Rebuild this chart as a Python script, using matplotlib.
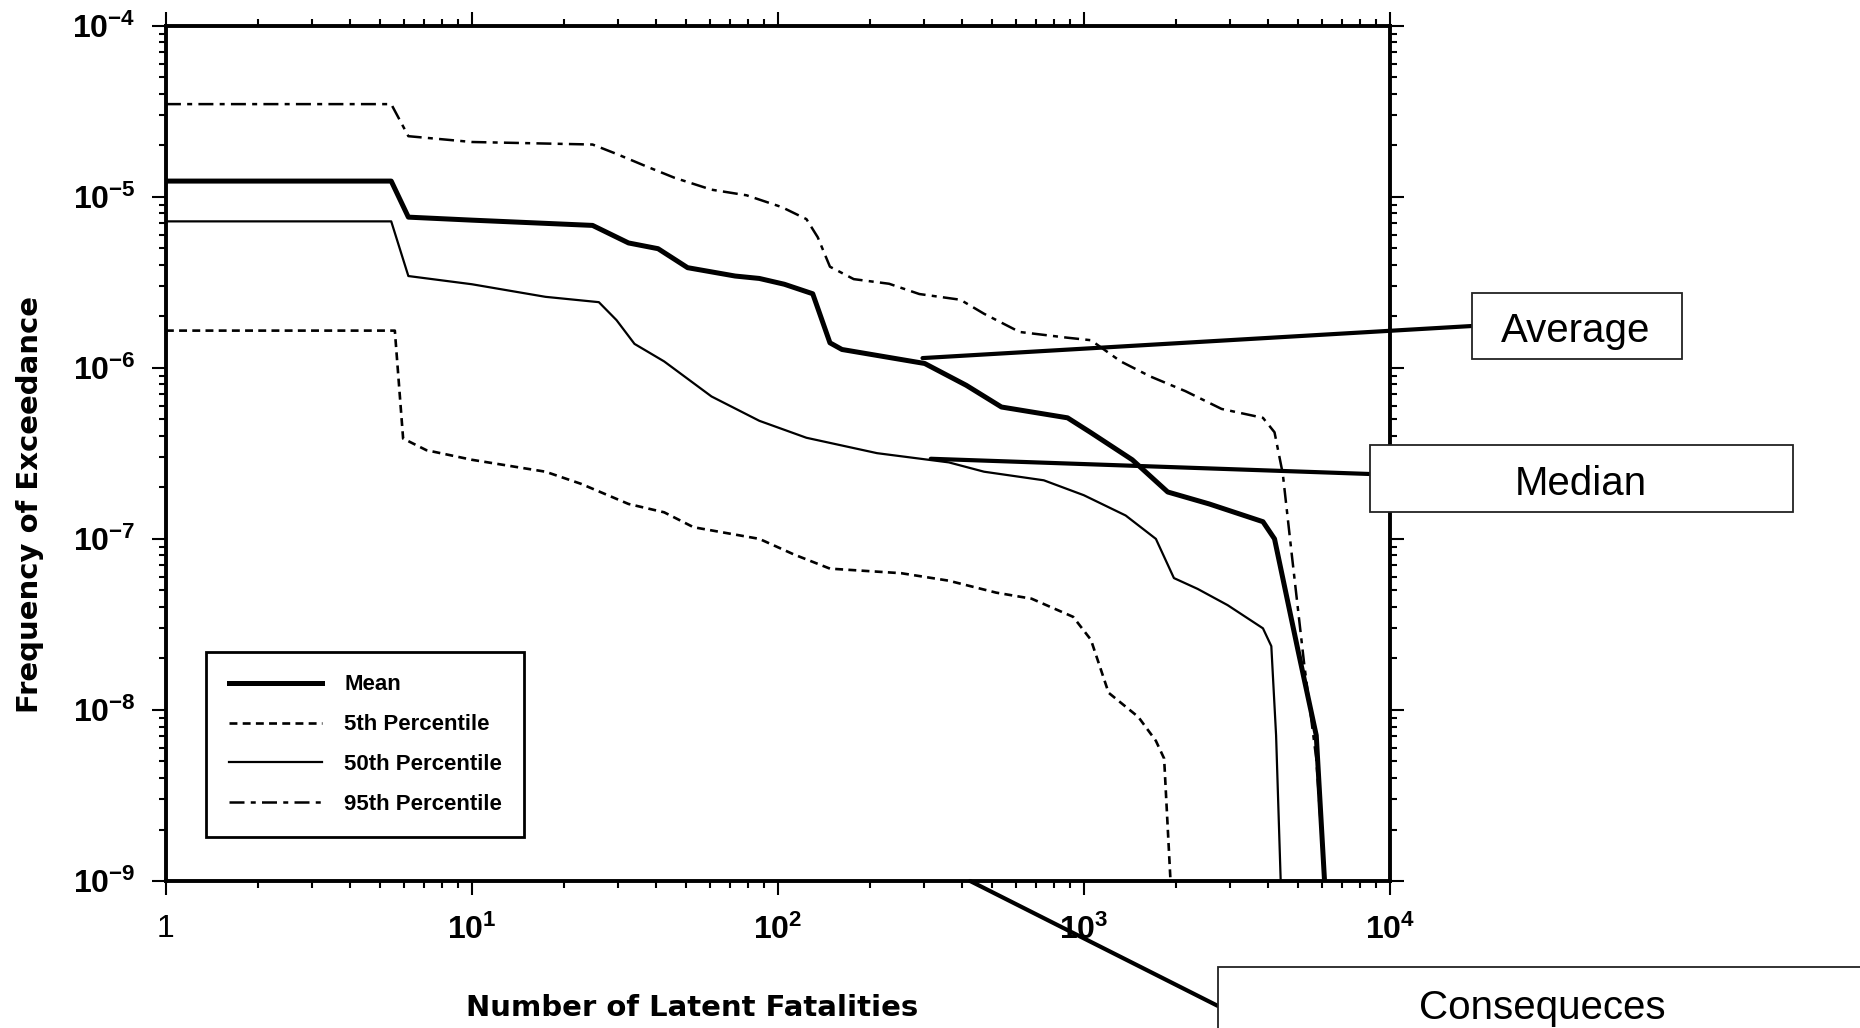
import numpy as np
import matplotlib
matplotlib.use('Agg')
import matplotlib.pyplot as plt
from matplotlib.patches import Rectangle
from matplotlib.ticker import LogLocator, NullFormatter

plt.rcParams['font.family'] = ['Liberation Sans', 'DejaVu Sans']
plt.rcParams['mathtext.fontset'] = 'custom'
plt.rcParams['mathtext.rm'] = 'Liberation Sans:bold'
plt.rcParams['mathtext.bf'] = 'Liberation Sans:bold'
plt.rcParams['mathtext.default'] = 'bf'

# --- data ---
mean_x = [1, 5.45, 6.2, 10, 24.8, 32.5, 40.6, 50.7, 72.5, 87, 105, 130, 138, 148, 162,
          302, 413, 538, 885, 1050, 1440, 1880, 2570, 3850, 4200, 5020, 5750, 6120]
mean_y = [1.235e-5, 1.235e-5, 7.6e-6, 7.3e-6, 6.8e-6, 5.37e-6, 4.97e-6, 3.85e-6, 3.44e-6,
          3.33e-6, 3.08e-6, 2.71e-6, 2.0e-6, 1.4e-6, 1.28e-6, 1.06e-6, 7.9e-7, 5.9e-7, 5.1e-7,
          4.2e-7, 2.9e-7, 1.88e-7, 1.6e-7, 1.26e-7, 1e-7, 2.2e-8, 7.1e-9, 1e-9]

p5_x = [1, 5.6, 5.96, 7.1, 10, 17.4, 22.7, 32.5, 42.5, 53, 87, 113, 148, 253, 361,
        517, 675, 923, 1055, 1205, 1507, 1720, 1830, 1920]
p5_y = [1.65e-6, 1.65e-6, 3.86e-7, 3.3e-7, 2.9e-7, 2.47e-7, 2.1e-7, 1.6e-7, 1.43e-7,
        1.17e-7, 1e-7, 8.1e-8, 6.7e-8, 6.3e-8, 5.7e-8, 4.85e-8, 4.47e-8, 3.5e-8,
        2.57e-8, 1.26e-8, 9.1e-9, 6.6e-9, 5.2e-9, 1e-9]

p50_x = [1, 5.45, 6.2, 10, 17.4, 26, 29.7, 34, 42.5, 60.7, 87, 124, 211, 362, 472,
         740, 1000, 1370, 1720, 1970, 2355, 2950, 3850, 4100, 4250, 4400]
p50_y = [7.18e-6, 7.18e-6, 3.44e-6, 3.08e-6, 2.6e-6, 2.42e-6, 1.9e-6, 1.38e-6, 1.09e-6,
         6.8e-7, 4.9e-7, 3.9e-7, 3.17e-7, 2.8e-7, 2.47e-7, 2.2e-7, 1.8e-7, 1.37e-7,
         1e-7, 5.9e-8, 5.1e-8, 4.1e-8, 3e-8, 2.36e-8, 7.1e-9, 1e-9]

p95_x = [1, 5.45, 6.2, 10, 24.8, 29.7, 37, 46, 60.7, 79, 103, 124, 135, 148, 177, 231,
         290, 395, 472, 617, 883, 1055, 1320, 1650, 2150, 2820, 3850, 4200, 4470, 4790,
         5250, 5750, 6120]
p95_y = [3.48e-5, 3.48e-5, 2.26e-5, 2.09e-5, 2.02e-5, 1.78e-5, 1.51e-5, 1.29e-5, 1.1e-5,
         1.02e-5, 8.7e-6, 7.4e-6, 5.8e-6, 3.9e-6, 3.3e-6, 3.1e-6, 2.7e-6, 2.5e-6, 2.07e-6,
         1.62e-6, 1.5e-6, 1.45e-6, 1.09e-6, 8.9e-7, 7.3e-7, 5.75e-7, 5.1e-7, 4.2e-7,
         2.4e-7, 7.9e-8, 1.86e-8, 5.2e-9, 1e-9]

x_ticks = [1, 10, 100, 1000, 10000]
x_ticklabels = ['1', '$10^{1}$', '$10^{2}$', '$10^{3}$', '$10^{4}$']
y_ticks = [1e-9, 1e-8, 1e-7, 1e-6, 1e-5, 1e-4]
y_ticklabels = [r'$10^{-9}$', r'$10^{-8}$', r'$10^{-7}$', r'$10^{-6}$', r'$10^{-5}$', r'$10^{-4}$']

fig = plt.figure(figsize=(18.6, 10.28), dpi=100)
ax = fig.add_axes([0.0892, 0.143, 0.658, 0.832])

ax.plot(mean_x, mean_y, color='black', lw=3.6, label='Mean', solid_joinstyle='round')
ax.plot(p5_x, p5_y, color='black', lw=1.9, ls=(0, (3, 2)), label='5th Percentile')
ax.plot(p50_x, p50_y, color='black', lw=1.6, label='50th Percentile', solid_joinstyle='round')
ax.plot(p95_x, p95_y, color='black', lw=1.8, ls=(0, (6, 2.5, 2, 2.5)), label='95th Percentile')

ax.set_xscale('log')
ax.set_yscale('log')
ax.set_xlim(1, 1e4)
ax.set_ylim(1e-9, 1e-4)

ax.set_xticks(x_ticks)
ax.set_xticklabels(x_ticklabels)
ax.set_yticks(y_ticks)
ax.set_yticklabels(y_ticklabels)
ax.xaxis.set_minor_locator(LogLocator(base=10, subs=np.arange(2, 10)))
ax.yaxis.set_minor_locator(LogLocator(base=10, subs=np.arange(2, 10)))
ax.xaxis.set_minor_formatter(NullFormatter())
ax.yaxis.set_minor_formatter(NullFormatter())

for s in ax.spines.values():
    s.set_linewidth(2.8)
ax.tick_params(which='both', direction='out', top=True, right=True, width=1.5)
ax.tick_params(which='major', length=10, labelsize=23)
ax.tick_params(axis='x', which='major', pad=14)
ax.tick_params(axis='y', which='major', pad=12)
ax.tick_params(which='minor', length=5)

ax.set_xlabel('Number of Latent Fatalities', fontsize=21, fontweight='bold', family='DejaVu Sans')
ax.xaxis.set_label_coords(0.43, -0.132)
ax.set_ylabel('Frequency of Exceedance', fontsize=21, fontweight='bold', family='DejaVu Sans')
ax.yaxis.set_label_coords(-0.1, 0.44)

leg = ax.legend(loc='lower left', bbox_to_anchor=(0.024, 0.038), fancybox=False,
                edgecolor='black', framealpha=1, handlelength=4.2, labelspacing=0.85,
                borderpad=1.0, handletextpad=1.0, prop={'weight': 'bold', 'size': 16})
leg.get_frame().set_linewidth(2)

# --- callout boxes (figure pixel coords / 1860x1028) ---
W, H = 1860.0, 1028.0


def callout(text, box, text_xy, start, end):
    x0, y0, x1, y1 = box
    fig.add_artist(Rectangle((x0 / W, 1 - y1 / H), (x1 - x0) / W, (y1 - y0) / H,
                             transform=fig.transFigure, fill=True, facecolor='white',
                             edgecolor='#222222', lw=1.3, zorder=5))
    fig.text(text_xy[0] / W, 1 - text_xy[1] / H, text, ha='center', va='center',
             fontsize=29, family='Liberation Sans', zorder=6)
    ax.annotate('', xy=start, xycoords='data', xytext=(end[0] / W, 1 - end[1] / H),
                textcoords='figure fraction', annotation_clip=False,
                arrowprops=dict(arrowstyle='-', lw=3, color='black',
                                shrinkA=0, shrinkB=0))


callout('Average', (1472, 293, 1682, 359), (1576, 331), (297, 1.14e-6), (1472, 326))
callout('Median', (1370, 445, 1793, 512), (1581, 484), (316, 2.94e-7), (1370, 474))
callout('Consequeces', (1218, 967, 1862, 1032), (1542, 1008), (425, 1e-9), (1218, 1006))

fig.savefig('out.png', dpi=100, facecolor='white')
